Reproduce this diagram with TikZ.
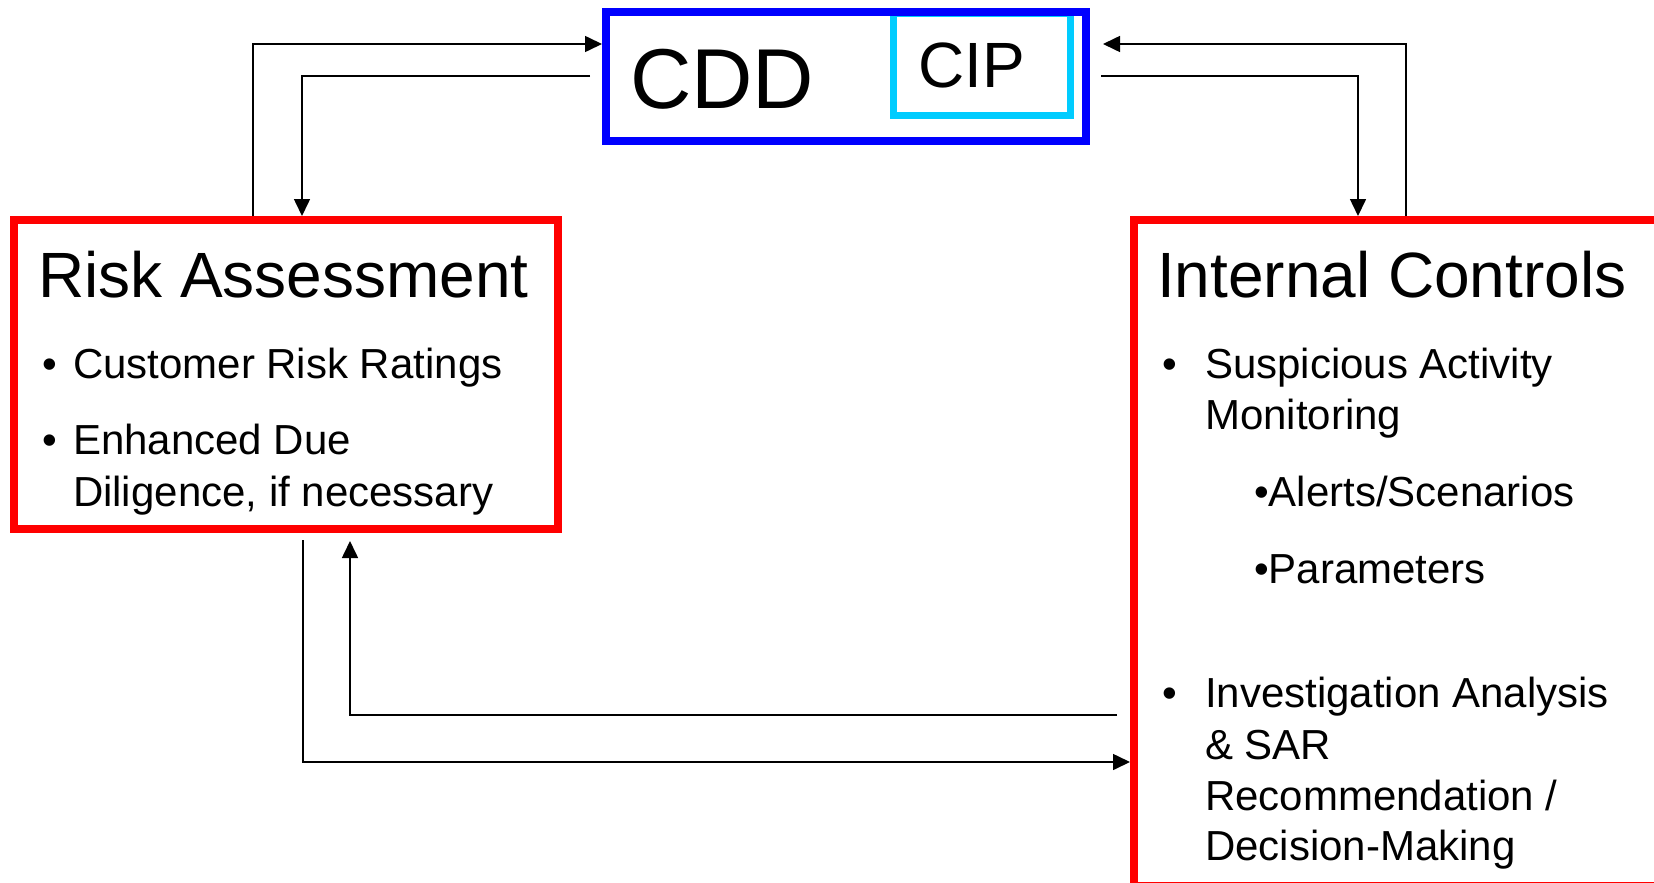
\documentclass[tikz,border=0pt]{standalone}
\usepackage{fontspec}
\setmainfont{Liberation Sans}
\usetikzlibrary{arrows.meta}
\definecolor{cddblue}{RGB}{0,0,255}
\definecolor{cipcyan}{RGB}{0,204,255}
\definecolor{boxred}{RGB}{255,0,0}
\tikzset{
  frame/.style={draw, line width=8pt, inner sep=0pt, fill=none},
  conn/.style={line width=1.6pt, -{Triangle[length=17pt,width=16pt]}},
  txt/.style={anchor=base west, inner sep=0pt, outer sep=0pt},
  big/.style={font=\fontsize{85}{100}\selectfont},
  mid/.style={font=\fontsize{64}{76}\selectfont},
  body/.style={font=\fontsize{42}{50}\selectfont},
}
\begin{document}
\begin{tikzpicture}[x=1pt,y=-1pt]
\useasboundingbox (0,0) rectangle (1654,883);
\fill[white] (0,0) rectangle (1654,883);
\clip (0,0) rectangle (1654,883);
% boxes
\node[frame, draw=cipcyan, line width=7pt, minimum width=177pt, minimum height=101.5pt] (cip) at (982,64.75) {};
\node[frame, draw=cddblue, minimum width=480pt, minimum height=129pt] (cdd) at (846,76.5) {};
\node[frame, draw=boxred, minimum width=544pt, minimum height=309pt] (risk) at (286,374.5) {};
\node[frame, draw=boxred, minimum width=531pt, minimum height=666pt] (ictl) at (1399.5,553) {};
% texts
\node[txt, big] (tcdd) at (630,108) {CDD};
\node[txt, mid] (tcip) at (918,88) {CIP};
\node[txt, mid] (trisk) at (38,297) {Risk Assessment};
\node[txt, mid] (tictl) at (1157,297) {Internal Controls};
\node[txt, body] (rb1) at (42,378) {•};
\node[txt, body] (rt1) at (73,378) {Customer Risk Ratings};
\node[txt, body] (rb2) at (42,454) {•};
\node[txt, body] (rt2) at (73,454) {Enhanced Due};
\node[txt, body] (rt3) at (73,506) {Diligence, if necessary};
\node[txt, body] (ib1) at (1162,378) {•};
\node[txt, body] (it1) at (1205,378) {Suspicious Activity};
\node[txt, body] (it2) at (1205,429) {Monitoring};
\node[txt, body] (it3) at (1254,506) {•Alerts/Scenarios};
\node[txt, body] (it4) at (1254,583) {•Parameters};
\node[txt, body] (ib2) at (1162,707) {•};
\node[txt, body] (it5) at (1205,707) {Investigation Analysis};
\node[txt, body] (it6) at (1205,759) {\& SAR};
\node[txt, body] (it7) at (1205,810) {Recommendation /};
\node[txt, body] (it8) at (1205,860) {Decision-Making};
% connector helper coordinates
\coordinate (p1) at (253,44);
\coordinate (s2) at (590,76);
\coordinate (p2) at (302,0);
\coordinate (s3) at (1101,76);
\coordinate (p3) at (1358,0);
\coordinate (p4) at (1406,44);
\coordinate (e4) at (1103,44);
\coordinate (s5) at (303,540);
\coordinate (p5) at (0,762);
\coordinate (s6) at (1117,715);
\coordinate (e6) at (350,541);
% connectors
\draw[conn] (risk.north -| p1) |- (cdd.west |- p1);
\draw[conn] (s2) -| (p2 |- risk.north);
\draw[conn] (s3) -| (p3 |- ictl.north);
\draw[conn] (ictl.north -| p4) |- (e4);
\draw[conn] (s5) |- (ictl.west |- p5);
\draw[conn] (s6) -| (e6);
\end{tikzpicture}
\end{document}
